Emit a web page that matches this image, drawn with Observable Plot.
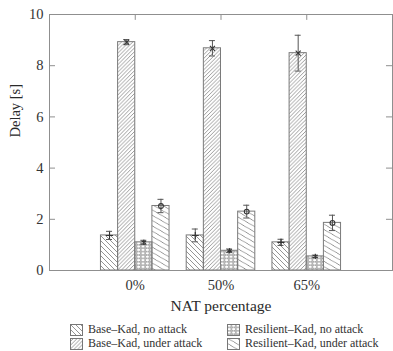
<!DOCTYPE html>
<html>
<head>
<meta charset="utf-8">
<script src="https://cdn.jsdelivr.net/npm/d3@7"></script>
<script src="https://cdn.jsdelivr.net/npm/@observablehq/plot@0.6"></script>
<style>
  html, body { margin: 0; padding: 0; background: #fff; }
  #wrap { position: relative; width: 393px; height: 351px; font-family: "Liberation Serif", "Times New Roman", serif; color: #333; }
  .leg { position: absolute; font-size: 12px; line-height: 13px; white-space: nowrap; display: flex; align-items: center; }
  .leg svg { margin-right: 5px; }
</style>
</head>
<body>
<div id="wrap"></div>
<script>
const categories = ["0%", "50%", "65%"];
const series = ["Base–Kad, no attack", "Base–Kad, under attack", "Resilient–Kad, no attack", "Resilient–Kad, under attack"];
const baseNo = [1.37, 1.37, 1.10];
const baseNoErr = [0.16, 0.25, 0.12];
const baseUnder = [8.92, 8.68, 8.49];
const baseUnderErr = [0.10, 0.30, 0.70];
const resNo = [1.10, 0.77, 0.55];
const resNoErr = [0.08, 0.07, 0.05];
const resUnder = [2.52, 2.30, 1.86];
const resUnderErr = [0.26, 0.25, 0.30];
const yTicks = [0, 2, 4, 6, 8, 10];

const patterns = ["pBaseNo", "pBaseUnder", "pResNo", "pResUnder"];
const symbols = ["plus", "times", "asterisk", "circle"];
const values = [baseNo, baseUnder, resNo, resUnder];
const errs = [baseNoErr, baseUnderErr, resNoErr, resUnderErr];

const barW = 0.2;
const rows = [];
series.forEach((s, si) => {
  categories.forEach((c, ci) => {
    const x1 = ci + 1 - 0.4 + si * barW;
    rows.push({series: s, si, cat: c, x1, x2: x1 + barW, xm: x1 + barW / 2,
      v: values[si][ci], lo: values[si][ci] - errs[si][ci], hi: values[si][ci] + errs[si][ci]});
  });
});
const catIdx = categories.map((c, i) => i + 1);

const gray = "#8f8f8f";
const svg = Plot.plot({
  width: 393,
  height: 316,
  marginLeft: 49,
  marginRight: 1,
  marginTop: 14,
  marginBottom: 46,
  style: {fontFamily: "'Liberation Serif', 'Times New Roman', serif", color: "#333", background: "#fff", overflow: "visible"},
  x: {domain: [0, 4], axis: null},
  y: {domain: [0, 10], axis: null},
  marks: [
    Plot.rect(rows, {x1: "x1", x2: "x2", y1: 0, y2: "v", fill: d => `url(#${patterns[d.si]})`, stroke: "#7a7a7a", strokeWidth: 1}),
    Plot.ruleX(rows, {x: "xm", y1: "lo", y2: "hi", stroke: "#555", strokeWidth: 1}),
    Plot.ruleY(rows, {y: "lo", x1: d => d.xm - 0.035, x2: d => d.xm + 0.035, stroke: "#555", strokeWidth: 1}),
    Plot.ruleY(rows, {y: "hi", x1: d => d.xm - 0.035, x2: d => d.xm + 0.035, stroke: "#555", strokeWidth: 1}),
    Plot.dot(rows, {x: "xm", y: "v", symbol: d => symbols[d.si], r: 2.4, stroke: "#333", strokeWidth: 1.1, fill: "none"}),
    Plot.frame({stroke: gray, strokeWidth: 1}),
    Plot.ruleY(yTicks, {y: d => d, x1: 0, x2: 0.07, stroke: gray}),
    Plot.ruleY(yTicks, {y: d => d, x1: 3.93, x2: 4, stroke: gray}),
    Plot.ruleX(catIdx, {x: d => d, y1: 10, y2: 9.77, stroke: gray}),
    Plot.ruleX(catIdx, {x: d => d, y1: 0, y2: 0.23, stroke: gray}),
    Plot.text(yTicks, {x: 0, y: d => d, text: d => String(d), textAnchor: "end", dx: -6, fontSize: 14.5, fill: "#333"}),
    Plot.text(catIdx, {x: d => d, y: 0, text: (d, i) => categories[i], dy: 15, fontSize: 14.5, fill: "#333"}),
    Plot.text(["NAT percentage"], {x: 2, y: 0, dy: 36, fontSize: 15.5, fill: "#2a2a2a"}),
    Plot.text(["Delay [s]"], {frameAnchor: "left", rotate: -90, dx: -34, dy: -5, fontSize: 14.5, fill: "#2a2a2a"})
  ]
});

const defsMarkup = `
<pattern id="pBaseNo" patternUnits="userSpaceOnUse" width="5" height="5">
  <path d="M-1,-1 L6,6 M-1,4 L1,6 M4,-1 L6,1" stroke="#7a7a7a" stroke-width="0.8" fill="none"/>
</pattern>
<pattern id="pBaseUnder" patternUnits="userSpaceOnUse" width="3.8" height="3.8">
  <path d="M-1,4.8 L4.8,-1 M-1,1 L1,-1 M2.8,4.8 L4.8,2.8" stroke="#7a7a7a" stroke-width="0.75" fill="none"/>
</pattern>
<pattern id="pResNo" patternUnits="userSpaceOnUse" width="4.4" height="3.4">
  <ellipse cx="2.2" cy="1.7" rx="2.2" ry="1.7" stroke="#7a7a7a" stroke-width="0.7" fill="none"/>
</pattern>
<pattern id="pResUnder" patternUnits="userSpaceOnUse" width="6.5" height="6.5" patternTransform="rotate(-15)">
  <path d="M-1,-1 L7.5,7.5 M-1,5.5 L1,7.5 M5.5,-1 L7.5,1" stroke="#7a7a7a" stroke-width="0.85" fill="none"/>
</pattern>`;

const defs = document.createElementNS("http://www.w3.org/2000/svg", "defs");
defs.innerHTML = defsMarkup;
svg.insertBefore(defs, svg.firstChild);
svg.style.position = "absolute";
svg.style.left = "0px";
svg.style.top = "0px";

const wrap = document.getElementById("wrap");
wrap.appendChild(svg);

const legPos = [[70, 323], [70, 337], [227, 323], [227, 337]];
series.forEach((s, i) => {
  const div = document.createElement("div");
  div.className = "leg";
  div.style.left = legPos[i][0] + "px";
  div.style.top = legPos[i][1] + "px";
  div.innerHTML = `<svg width="13" height="12"><rect x="0.5" y="0.5" width="12" height="11" fill="url(#${patterns[i]})" stroke="#777" stroke-width="1"/></svg><span>${s}</span>`;
  wrap.appendChild(div);
});
</script>
</body>
</html>
